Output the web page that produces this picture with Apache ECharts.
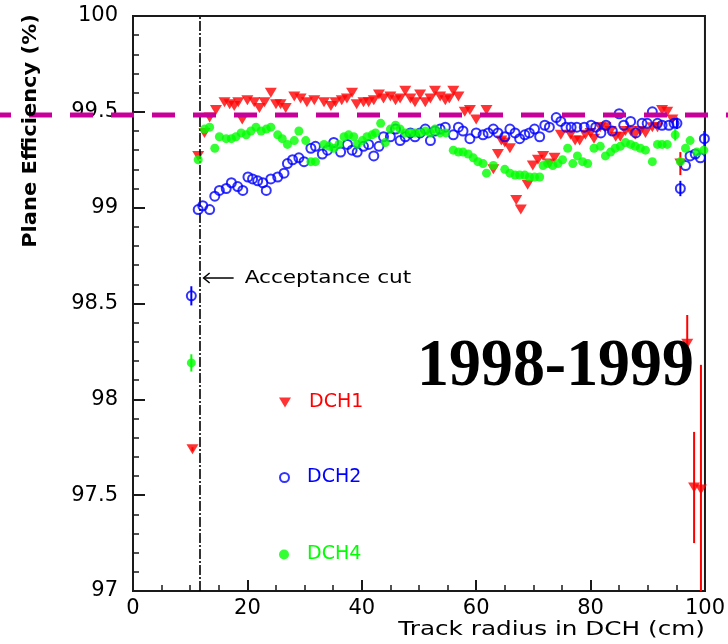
<!DOCTYPE html>
<html>
<head>
<meta charset="utf-8">
<title>DCH plane efficiency vs track radius</title>
<script src="https://cdn.jsdelivr.net/npm/echarts@6/dist/echarts.min.js"></script>
<style>
  html, body { margin: 0; padding: 0; background: #ffffff; }
  #chart { width: 728px; height: 644px; }
</style>
</head>
<body>
<div id="chart"></div>
<script>
// ---- measured plane efficiencies (%) vs track radius (cm) ----
const dch1Radius = [10.4, 11.4, 12.5, 13.4, 14.5, 16.0, 16.9, 17.7, 18.4, 19.1, 20.0, 21.2, 22.1, 23.0, 24.1, 25.0, 25.8, 26.7, 28.2, 29.3,
  30.4, 31.7, 33.4, 34.6, 35.4, 36.5, 37.4, 38.3, 39.1, 40.3, 41.2, 42.1, 43.0, 43.8, 45.0, 45.9, 46.7, 47.6, 48.5, 49.3,
  50.2, 51.1, 52.0, 52.8, 53.7, 54.6, 55.3, 56.0, 56.9, 58.0, 58.9, 60.0, 61.8, 63.0, 63.8, 64.4, 65.0, 65.9, 67.0, 67.8,
  69.0, 69.9, 70.8, 71.7, 72.8, 73.7, 74.8, 76.5, 77.3, 78.1, 79.1, 80.0, 80.6, 81.7, 82.6, 83.5, 84.4, 85.2, 86.1, 87.0,
  87.8, 88.7, 89.6, 90.8, 91.7, 92.5, 93.4, 94.3, 95.7, 96.9, 98.1, 99.3];
const dch1Eff = [97.74, 99.27, 99.39, 99.47, 99.51, 99.55, 99.54, 99.53, 99.55, 99.46, 99.56, 99.55, 99.52, 99.55, 99.60, 99.54, 99.54, 99.52, 99.58, 99.57,
  99.55, 99.56, 99.55, 99.53, 99.55, 99.56, 99.57, 99.60, 99.54, 99.55, 99.55, 99.56, 99.59, 99.57, 99.58, 99.56, 99.57, 99.61, 99.57, 99.55,
  99.59, 99.55, 99.57, 99.61, 99.58, 99.56, 99.57, 99.61, 99.58, 99.50, 99.51, 99.46, 99.51, 99.20, 99.28, 99.35, 99.34, 99.31, 99.04, 98.99,
  99.12, 99.22, 99.25, 99.27, 99.23, 99.26, 99.38, 99.38, 99.35, 99.35, 99.38, 99.39, 99.36, 99.42, 99.42, 99.40, 99.37, 99.37, 99.40, 99.40,
  99.38, 99.40, 99.39, 99.42, 99.42, 99.51, 99.50, 99.46, 99.23, 98.29, 97.54, 97.53];
const dch1Err = [0.01, 0, 0, 0, 0, 0, 0, 0, 0, 0, 0, 0, 0, 0, 0, 0, 0, 0, 0, 0,
  0, 0, 0, 0, 0, 0, 0, 0, 0, 0, 0, 0, 0, 0, 0, 0, 0, 0, 0, 0,
  0, 0, 0, 0, 0, 0, 0, 0, 0, 0, 0, 0, 0, 0, 0, 0, 0, 0, 0, 0,
  0, 0, 0, 0, 0, 0, 0, 0, 0, 0, 0, 0, 0, 0, 0, 0, 0, 0, 0, 0,
  0, 0, 0, 0, 0, 0, 0, 0, 0.06, 0.15, 0.29, 0.65];

const dch2Radius = [10.2, 11.4, 12.2, 13.4, 14.3, 15.1, 16.3, 17.2, 18.3, 19.2, 20.1, 20.9, 21.8, 22.7, 23.3, 24.1, 25.3, 26.4, 27.0, 27.9,
  29.0, 29.9, 31.1, 31.9, 33.1, 34.0, 35.1, 36.3, 37.5, 38.3, 39.2, 40.3, 41.2, 42.1, 43.0, 43.8, 45.0, 45.9, 46.7, 47.6,
  48.5, 49.3, 50.2, 51.1, 52.0, 52.8, 53.7, 54.6, 56.0, 56.9, 57.7, 58.9, 60.0, 61.2, 62.1, 63.0, 63.8, 65.0, 65.9, 66.8,
  67.6, 68.5, 69.3, 70.2, 71.1, 72.0, 72.8, 74.0, 74.8, 75.7, 76.6, 77.6, 78.9, 80.1, 80.9, 81.8, 82.7, 83.8, 85.0, 85.8,
  87.0, 87.9, 89.0, 89.9, 90.8, 91.7, 92.5, 93.7, 94.6, 95.1, 95.7, 96.6, 97.4, 98.3, 99.2, 99.9];
const dch2Eff = [98.54, 98.99, 99.01, 98.99, 99.06, 99.09, 99.10, 99.13, 99.11, 99.09, 99.16, 99.15, 99.14, 99.13, 99.09, 99.15, 99.16, 99.18, 99.23, 99.25,
  99.26, 99.24, 99.31, 99.32, 99.28, 99.30, 99.34, 99.29, 99.33, 99.30, 99.29, 99.32, 99.33, 99.27, 99.32, 99.37, 99.37, 99.41, 99.35, 99.37,
  99.39, 99.37, 99.39, 99.41, 99.35, 99.40, 99.41, 99.42, 99.38, 99.42, 99.40, 99.36, 99.39, 99.38, 99.39, 99.41, 99.39, 99.37, 99.41, 99.39,
  99.36, 99.38, 99.39, 99.41, 99.37, 99.43, 99.42, 99.47, 99.45, 99.42, 99.42, 99.42, 99.42, 99.43, 99.42, 99.39, 99.43, 99.40, 99.49, 99.43,
  99.45, 99.39, 99.44, 99.44, 99.50, 99.44, 99.43, 99.43, 99.44, 99.44, 99.10, 99.22, 99.27, 99.28, 99.26, 99.36];
const dch2Err = [0.05, 0, 0, 0, 0, 0, 0, 0, 0, 0, 0, 0, 0, 0, 0, 0, 0, 0, 0, 0,
  0, 0, 0, 0, 0, 0, 0, 0, 0, 0, 0, 0, 0, 0, 0, 0, 0, 0, 0, 0,
  0, 0, 0, 0, 0, 0, 0, 0, 0, 0, 0, 0, 0, 0, 0, 0, 0, 0, 0, 0,
  0, 0, 0, 0, 0, 0, 0, 0, 0, 0, 0, 0, 0, 0, 0, 0, 0, 0, 0, 0,
  0, 0, 0, 0, 0, 0, 0, 0, 0, 0.03, 0.04, 0, 0, 0, 0, 0.04];

const dch4Radius = [10.2, 11.4, 12.5, 13.4, 14.3, 15.1, 16.3, 17.2, 18.0, 18.9, 19.8, 20.6, 21.5, 22.4, 23.3, 24.1, 25.3, 26.1, 27.0, 28.2,
  29.0, 30.2, 31.1, 31.9, 33.4, 34.3, 35.1, 36.0, 36.9, 37.7, 38.6, 39.2, 40.1, 40.9, 41.8, 42.4, 43.3, 44.1, 45.0, 45.9,
  46.7, 47.6, 48.5, 49.3, 50.2, 51.1, 52.0, 52.8, 53.7, 54.7, 56.0, 56.9, 57.7, 58.6, 59.5, 60.3, 61.2, 61.8, 63.0, 65.0,
  65.9, 66.8, 67.6, 68.5, 69.3, 70.2, 71.1, 71.7, 72.5, 73.4, 74.3, 75.1, 76.0, 76.9, 77.7, 78.6, 79.5, 80.6, 81.7, 82.6,
  83.5, 84.3, 85.2, 86.1, 87.0, 87.8, 88.7, 89.6, 90.8, 91.7, 92.5, 93.4, 94.8, 95.7, 96.6, 97.4, 98.6, 99.8];
const dch4Eff = [98.19, 99.25, 99.41, 99.42, 99.31, 99.37, 99.36, 99.36, 99.37, 99.39, 99.38, 99.40, 99.42, 99.40, 99.41, 99.42, 99.38, 99.36, 99.33, 99.35,
  99.40, 99.35, 99.24, 99.24, 99.33, 99.32, 99.31, 99.33, 99.37, 99.38, 99.37, 99.33, 99.35, 99.37, 99.38, 99.39, 99.44, 99.34, 99.41, 99.43,
  99.41, 99.39, 99.39, 99.39, 99.39, 99.40, 99.39, 99.41, 99.39, 99.39, 99.30, 99.29, 99.29, 99.28, 99.26, 99.24, 99.23, 99.18, 99.22, 99.20,
  99.18, 99.17, 99.17, 99.17, 99.16, 99.16, 99.16, 99.22, 99.23, 99.22, 99.23, 99.25, 99.31, 99.23, 99.27, 99.24, 99.23, 99.31, 99.32, 99.27,
  99.29, 99.31, 99.32, 99.34, 99.33, 99.32, 99.31, 99.30, 99.24, 99.33, 99.33, 99.33, 99.38, 99.24, 99.31, 99.35, 99.29, 99.30];
const dch4Err = [0.045, 0, 0, 0, 0, 0, 0, 0, 0, 0, 0, 0, 0, 0, 0, 0, 0, 0, 0, 0,
  0, 0, 0, 0, 0, 0, 0, 0, 0, 0, 0, 0, 0, 0, 0, 0, 0, 0, 0, 0,
  0, 0, 0, 0, 0, 0, 0, 0, 0, 0, 0, 0, 0, 0, 0, 0, 0, 0, 0, 0,
  0, 0, 0, 0, 0, 0, 0, 0, 0, 0, 0, 0, 0, 0, 0, 0, 0, 0, 0, 0,
  0, 0, 0, 0, 0, 0, 0, 0, 0, 0, 0, 0, 0.03, 0, 0, 0, 0, 0];

// reference levels
const acceptanceCutRadius = 11.65;   // cm
const referenceEfficiency = 99.483;  // %
const cutLabelEfficiency = 98.633;   // height of the "Acceptance cut" note

const xTicks = { min: 0, max: 100, step: 20 };
const yTicks = { min: 97, max: 100, step: 0.5 };

// ---- helpers ----
const zip = (xs, ys) => xs.map((x, i) => [x, ys[i]]);

function errorBars(xs, ys, es, color, z) {
  const data = [];
  xs.forEach((x, i) => { if (es[i] > 0) data.push([x, ys[i], es[i]]); });
  return {
    type: 'custom',
    data: data,
    clip: true,
    silent: true,
    z: z,
    encode: { x: 0, y: 1 },
    renderItem: function (params, api) {
      const x = api.value(0), y = api.value(1), e = api.value(2);
      const hi = api.coord([x, y + e]);
      const lo = api.coord([x, y - e]);
      return {
        type: 'line',
        shape: { x1: hi[0], y1: hi[1], x2: lo[0], y2: lo[1] },
        style: { stroke: color, lineWidth: 2 }
      };
    }
  };
}

const RED = '#ff0000', BLUE = '#0000ff', GREEN = '#00ff00';
const AXIS = '#1a1a1a';
const tickFont = { fontFamily: 'DejaVu Sans', fontSize: 21, color: '#000' };
const DOWN_TRIANGLE = 'path://M0,0 L12,0 L6,10 Z';

function legendFor(item, color, top, w, h) {
  return {
    data: [item],
    left: 274,
    top: top,
    itemWidth: w,
    itemHeight: h,
    selectedMode: false,
    textStyle: { fontFamily: 'DejaVu Sans', fontSize: 19, color: color, padding: [0, 0, 0, 13] }
  };
}

const chart = echarts.init(document.getElementById('chart'), null, { renderer: 'canvas' });

chart.setOption({
  animation: false,
  backgroundColor: '#ffffff',
  grid: { left: 133, top: 16, right: 20, bottom: 53, show: true, borderColor: AXIS, borderWidth: 2 },
  xAxis: {
    type: 'value', min: xTicks.min, max: xTicks.max, interval: xTicks.step,
    axisLine: { show: true, onZero: false, lineStyle: { color: AXIS, width: 2 } },
    axisTick: { show: true, inside: true, length: 11, lineStyle: { color: AXIS, width: 2 } },
    minorTick: { show: true, splitNumber: 4, length: 6, lineStyle: { color: AXIS, width: 1.5 } },
    splitLine: { show: false },
    axisLabel: Object.assign({ margin: 7 }, tickFont)
  },
  yAxis: {
    type: 'value', min: yTicks.min, max: yTicks.max, interval: yTicks.step,
    axisLine: { show: true, onZero: false, lineStyle: { color: AXIS, width: 2 } },
    axisTick: { show: true, inside: true, length: 12, lineStyle: { color: AXIS, width: 2 } },
    minorTick: { show: true, splitNumber: 5, length: 6, lineStyle: { color: AXIS, width: 1.5 } },
    splitLine: { show: false },
    axisLabel: Object.assign({ margin: 15 }, tickFont)
  },
  legend: [
    legendFor({ name: 'DCH1', icon: DOWN_TRIANGLE }, RED, 388, 12, 10),
    legendFor({ name: 'DCH2' }, BLUE, 463, 9, 9),
    legendFor({ name: 'DCH4' }, GREEN, 540, 10, 10)
  ],
  series: [
    errorBars(dch1Radius, dch1Eff, dch1Err, RED, 2),
    {
      name: 'DCH1', type: 'scatter', data: zip(dch1Radius, dch1Eff),
      symbol: 'triangle', symbolRotate: 180, symbolSize: [12, 10],
      itemStyle: { color: RED }, z: 3,
      markLine: {
        silent: true, symbol: ['none', 'none'], label: { show: false },
        lineStyle: { color: '#000', width: 1.6, type: [10, 2, 2, 2] },
        data: [{ xAxis: acceptanceCutRadius }]
      }
    },
    errorBars(dch2Radius, dch2Eff, dch2Err, BLUE, 4),
    {
      name: 'DCH2', type: 'scatter', data: zip(dch2Radius, dch2Eff),
      symbol: 'circle', symbolSize: 9,
      itemStyle: { color: 'rgba(255,255,255,0)', borderColor: BLUE, borderWidth: 2 }, z: 5
    },
    errorBars(dch4Radius, dch4Eff, dch4Err, GREEN, 6),
    {
      name: 'DCH4', type: 'scatter', data: zip(dch4Radius, dch4Eff),
      symbol: 'circle', symbolSize: 9,
      itemStyle: { color: GREEN }, z: 7
    }
  ]
});

// ---- annotations placed through the axis scales ----
const refY = chart.convertToPixel({ yAxisIndex: 0 }, referenceEfficiency);
const cutPt = chart.convertToPixel({ gridIndex: 0 }, [acceptanceCutRadius, cutLabelEfficiency]);
const xEnd = chart.convertToPixel({ xAxisIndex: 0 }, xTicks.max);

chart.setOption({
  graphic: [
    {
      type: 'line', z: 100, silent: true,
      shape: { x1: -12, y1: refY, x2: 740, y2: refY },
      style: { stroke: '#c8009a', lineWidth: 5, lineDash: [23, 18] }
    },
    {
      type: 'group', x: cutPt[0], y: cutPt[1], z: 100, silent: true,
      children: [
        { type: 'line', shape: { x1: 4, y1: 0, x2: 34, y2: 0 }, style: { stroke: '#000', lineWidth: 1.5 } },
        { type: 'polyline', shape: { points: [[10, -5], [4, 0], [10, 5]] }, style: { stroke: '#000', lineWidth: 1.5, fill: null } },
        {
          type: 'text', x: 45, y: 0, scaleX: 1.2,
          style: { text: 'Acceptance cut', font: '18px "DejaVu Sans"', fill: '#000', textAlign: 'left', textVerticalAlign: 'middle' }
        }
      ]
    },
    {
      type: 'text', x: 31, y: 131, rotation: Math.PI / 2, scaleX: 1.05, z: 100, silent: true,
      style: { text: 'Plane Efficiency (%)', font: 'bold 20px "DejaVu Sans"', fill: '#000', textAlign: 'center', textVerticalAlign: 'middle' }
    },
    {
      type: 'text', x: xEnd, y: 630, scaleX: 1.3, z: 100, silent: true,
      style: { text: 'Track radius in DCH (cm)', font: '19px "DejaVu Sans"', fill: '#000', textAlign: 'right', textVerticalAlign: 'middle' }
    },
    {
      type: 'text', x: 694, y: 367, scaleX: 0.94, z: 100, silent: true,
      style: { text: '1998-1999', font: 'bold 68px "Liberation Serif"', fill: '#000', textAlign: 'right', textVerticalAlign: 'middle' }
    }
  ]
});
</script>
</body>
</html>
